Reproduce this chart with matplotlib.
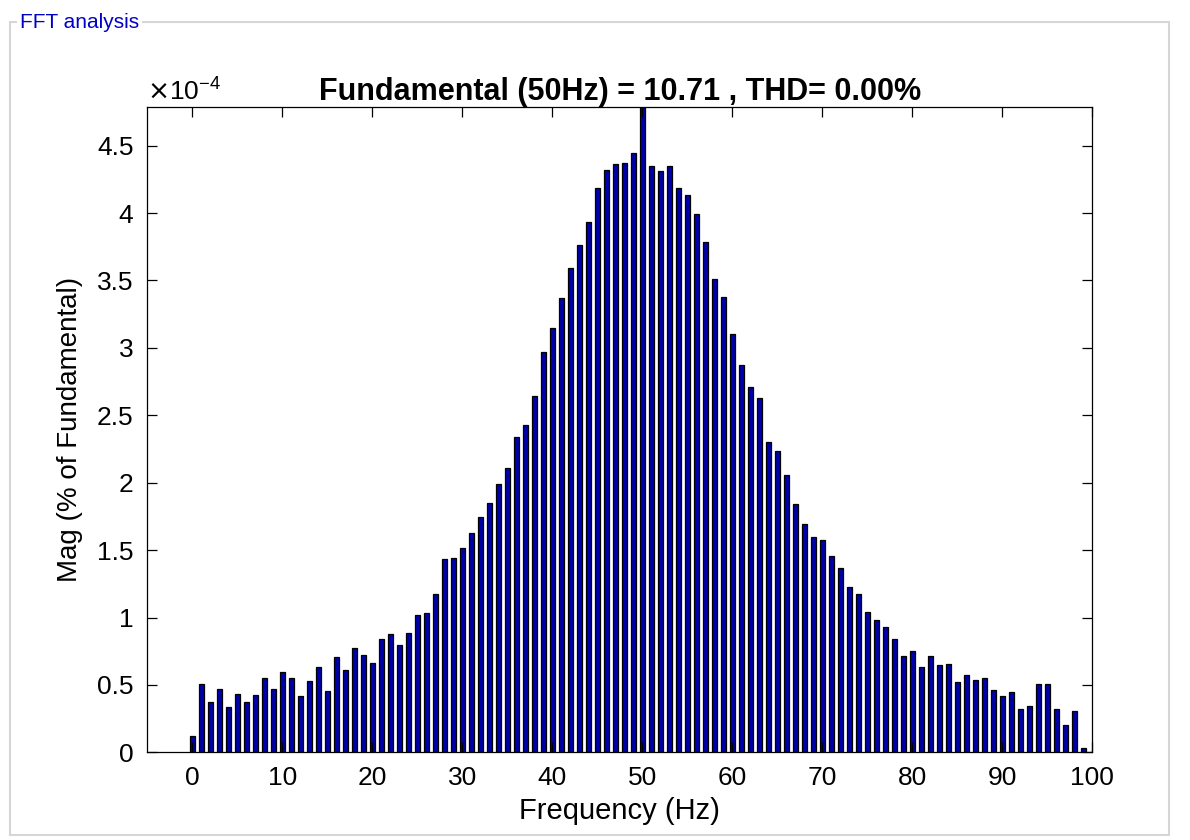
"""
FFT analysis bar chart: harmonic spectrum as % of the fundamental
"""

import numpy as np
import matplotlib.pyplot as plt
from matplotlib.patches import Rectangle
from matplotlib.ticker import FuncFormatter, MultipleLocator

plt.rcParams['font.family'] = ['Liberation Sans', 'DejaVu Sans']

# frequency bins (Hz), 1 Hz resolution
freq_hz = np.arange(0, 101)
fund_freq = 50
fund_pct = 100.0  # fundamental itself, clipped by the y limit

# magnitudes below / above the fundamental, in units of 1e-4 %
mag_below = [0.121, 0.507, 0.373, 0.470, 0.336, 0.432, 0.373, 0.425, 0.551, 0.470,
             0.596, 0.551, 0.418, 0.529, 0.633, 0.455, 0.707, 0.610, 0.774, 0.722,
             0.662, 0.841, 0.878, 0.796, 0.885, 1.018, 1.033, 1.174, 1.434, 1.439,
             1.513, 1.625, 1.746, 1.847, 1.988, 2.107, 2.337, 2.426, 2.643, 2.967,
             3.145, 3.368, 3.591, 3.761, 3.932, 4.184, 4.318, 4.362, 4.369, 4.444]
mag_above = [4.347, 4.310, 4.347, 4.184, 4.132, 3.991, 3.783, 3.509, 3.375, 3.101,
             2.872, 2.708, 2.626, 2.300, 2.235, 2.055, 1.840, 1.691, 1.595, 1.573,
             1.454, 1.365, 1.224, 1.172, 1.039, 0.979, 0.927, 0.838, 0.712, 0.750,
             0.631, 0.712, 0.645, 0.653, 0.519, 0.571, 0.534, 0.549, 0.460, 0.415,
             0.445, 0.319, 0.341, 0.504, 0.504, 0.319, 0.200, 0.304, 0.030, 0.0]

title_txt = 'Fundamental (50Hz) = 10.71 , THD= 0.00%'
xlabel_txt = 'Frequency (Hz)'
ylabel_txt = 'Mag (% of Fundamental)'
panel_txt = 'FFT analysis'
y_scale = 1e-4

mag = np.concatenate([np.array(mag_below) * y_scale, [fund_pct],
                      np.array(mag_above) * y_scale])

fig = plt.figure(figsize=(11.9, 8.4), dpi=100)
fig.patch.set_facecolor('white')

# panel frame around the plot
fig.add_artist(Rectangle((10 / 1190, 5 / 840), 1159 / 1190, 813 / 840,
                         transform=fig.transFigure, fill=False,
                         edgecolor='#d6d6d6', linewidth=1.5))
fig.text(20 / 1190, 1 - 23 / 840, panel_txt, color='#0000c8', fontsize=15,
         va='center', ha='left',
         bbox=dict(facecolor='white', edgecolor='none', pad=2))

ax = fig.add_axes([0.1238, 0.1044, 0.7941, 0.7679])
ax.bar(freq_hz, mag, width=0.5, color='#0000aa', edgecolor='black',
       linewidth=0.9)

ax.set_xlim(-5, 100)
ax.set_ylim(0, 4.785 * y_scale)
ax.xaxis.set_major_locator(MultipleLocator(10))
ax.yaxis.set_major_locator(MultipleLocator(0.5 * y_scale))
ax.yaxis.set_major_formatter(FuncFormatter(lambda v, p: f'{v / y_scale:g}'))
# exponent label, matlab style
ax.text(0.0, 1.003, r'$\times\mathregular{10^{-4}}$', transform=ax.transAxes,
        fontsize=19, ha='left', va='bottom')

ax.tick_params(direction='in', top=True, right=True, length=7, width=0.9,
               labelsize=19)
ax.tick_params(axis='x', pad=10)
ax.tick_params(axis='y', pad=10)
for sp in ax.spines.values():
    sp.set_linewidth(0.9)

ax.set_title(title_txt, fontsize=22, fontweight='bold', pad=5)
ax.set_xlabel(xlabel_txt, fontsize=21, labelpad=5)
ax.set_ylabel(ylabel_txt, fontsize=20, labelpad=10)

fig.savefig('out.png', dpi=100)
